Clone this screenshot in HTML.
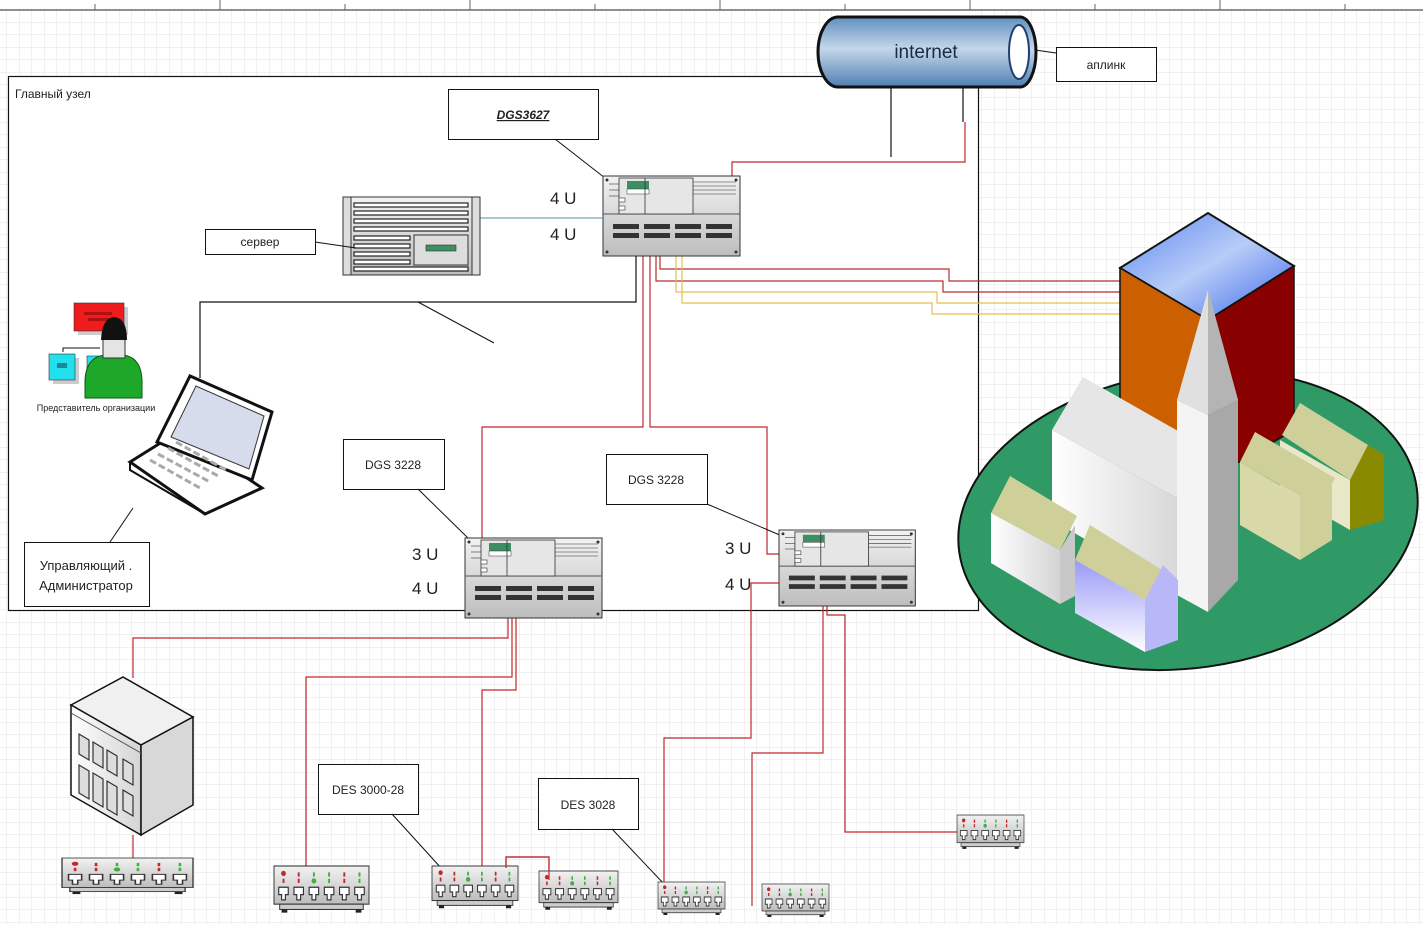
<!DOCTYPE html>
<html><head><meta charset="utf-8"><style>
html,body{margin:0;padding:0;background:#fff}
svg{display:block}
text{font-family:"Liberation Sans","DejaVu Sans",sans-serif}
</style></head><body>
<svg width="1423" height="925" viewBox="0 0 1423 925" xmlns="http://www.w3.org/2000/svg">
<defs>
<pattern id="grid" width="12.5" height="12.5" patternUnits="userSpaceOnUse" x="7" y="10">
<path d="M12.5 0V12.5H0" fill="none" stroke="#e3e3e3" stroke-width="1"/>
</pattern>
<linearGradient id="cyl" x1="0" y1="0" x2="0" y2="1">
<stop offset="0" stop-color="#5f8fbf"/><stop offset="0.45" stop-color="#c5d7ea"/><stop offset="1" stop-color="#4f7fb3"/>
</linearGradient>
<linearGradient id="gray" x1="0" y1="0" x2="0" y2="1">
<stop offset="0" stop-color="#f2f2f2"/><stop offset="1" stop-color="#bdbdbd"/>
</linearGradient>
<linearGradient id="blueTop" x1="0" y1="0" x2="1" y2="1">
<stop offset="0" stop-color="#5a86f0"/><stop offset="0.5" stop-color="#b8ccf8"/><stop offset="1" stop-color="#3a66e8"/>
</linearGradient>
<linearGradient id="wh" x1="0" y1="0" x2="1" y2="0">
<stop offset="0" stop-color="#ffffff"/><stop offset="1" stop-color="#d4d4d4"/>
</linearGradient>
<linearGradient id="lav" x1="0" y1="0" x2="0" y2="1">
<stop offset="0" stop-color="#9a9af8"/><stop offset="1" stop-color="#ffffff"/>
</linearGradient>
<g id="rack">
<rect x="0" y="0" width="137" height="80" fill="url(#gray)" stroke="#333" stroke-width="1"/>
<line x1="0" y1="38" x2="137" y2="38" stroke="#555"/>
<rect x="16" y="2" width="74" height="36" fill="#e6e6e6" stroke="#333" stroke-width="0.8"/>
<rect x="24" y="5" width="22" height="8" fill="#3d8f63"/>
<rect x="24" y="13" width="22" height="5" fill="#fff" stroke="#333" stroke-width="0.5"/>
<line x1="42" y1="2" x2="42" y2="38" stroke="#333" stroke-width="0.8"/>
<line x1="90" y1="6" x2="133" y2="6" stroke="#333" stroke-width="0.6"/>
<line x1="90" y1="10" x2="133" y2="10" stroke="#333" stroke-width="0.6"/>
<line x1="90" y1="14" x2="133" y2="14" stroke="#333" stroke-width="0.6"/>
<line x1="90" y1="18" x2="133" y2="18" stroke="#333" stroke-width="0.6"/>
<line x1="6" y1="8" x2="16" y2="8" stroke="#333" stroke-width="0.6"/>
<line x1="6" y1="14" x2="16" y2="14" stroke="#333" stroke-width="0.6"/>
<line x1="6" y1="20" x2="16" y2="20" stroke="#333" stroke-width="0.6"/>
<rect x="16" y="22" width="6" height="4" fill="#fff" stroke="#333" stroke-width="0.6"/>
<rect x="16" y="30" width="6" height="4" fill="#fff" stroke="#333" stroke-width="0.6"/>
<g fill="#333">
<rect x="10" y="48" width="26" height="5"/><rect x="41" y="48" width="26" height="5"/><rect x="72" y="48" width="26" height="5"/><rect x="103" y="48" width="26" height="5"/>
<rect x="10" y="57" width="26" height="5"/><rect x="41" y="57" width="26" height="5"/><rect x="72" y="57" width="26" height="5"/><rect x="103" y="57" width="26" height="5"/>
</g>
<circle cx="4" cy="4" r="1.5" fill="#333"/><circle cx="133" cy="4" r="1.5" fill="#333"/>
<circle cx="4" cy="76" r="1.5" fill="#333"/><circle cx="133" cy="76" r="1.5" fill="#333"/>
</g>
<g id="sw">
<rect x="0" y="0" width="100" height="36" fill="url(#gray)" stroke="#333"/>
<rect x="6" y="36" width="88" height="5" fill="#ccc" stroke="#333"/>
<rect x="8" y="41" width="6" height="3" fill="#222"/><rect x="86" y="41" width="6" height="3" fill="#222"/>
<g fill="#c0282c"><circle cx="10" cy="7" r="2.5"/><rect x="9" y="12" width="2" height="4"/><rect x="25" y="6" width="2" height="4"/><rect x="25" y="12" width="2" height="4"/><rect x="73" y="6" width="2" height="4"/><rect x="73" y="12" width="2" height="4"/></g>
<g fill="#3cb043"><rect x="41" y="6" width="2" height="4"/><circle cx="42" cy="14" r="2.5"/><rect x="57" y="6" width="2" height="4"/><rect x="57" y="12" width="2" height="4"/><rect x="89" y="6" width="2" height="4"/><rect x="89" y="12" width="2" height="4"/></g>
<g fill="#fff" stroke="#333" stroke-width="1.2">
<path d="M5 20h10v7h-3v5h-4v-5h-3z"/><path d="M21 20h10v7h-3v5h-4v-5h-3z"/><path d="M37 20h10v7h-3v5h-4v-5h-3z"/><path d="M53 20h10v7h-3v5h-4v-5h-3z"/><path d="M69 20h10v7h-3v5h-4v-5h-3z"/><path d="M85 20h10v7h-3v5h-4v-5h-3z"/>
</g>
</g>
</defs>

<rect width="1423" height="925" fill="#fff"/>
<rect x="0" y="10" width="1423" height="915" fill="url(#grid)"/>
<!-- ruler -->
<rect x="0" y="0" width="1423" height="10" fill="#fff"/>
<line x1="0" y1="10" x2="1423" y2="10" stroke="#222"/>
<g stroke="#666" stroke-width="1">
<line x1="220" y1="0" x2="220" y2="10"/><line x1="470" y1="0" x2="470" y2="10"/><line x1="720" y1="0" x2="720" y2="10"/><line x1="970" y1="0" x2="970" y2="10"/><line x1="1220" y1="0" x2="1220" y2="10"/>
<line x1="95" y1="4" x2="95" y2="10"/><line x1="345" y1="4" x2="345" y2="10"/><line x1="595" y1="4" x2="595" y2="10"/><line x1="845" y1="4" x2="845" y2="10"/><line x1="1095" y1="4" x2="1095" y2="10"/><line x1="1345" y1="4" x2="1345" y2="10"/>
</g>

<!-- main frame -->
<rect x="8.5" y="76.5" width="970" height="534" fill="#fff" stroke="#111" stroke-width="1.2"/>
<rect x="840" y="11" width="138" height="65" fill="#fff"/>
<text x="15" y="98" font-size="12" fill="#222">Главный узел</text>

<!-- internet -->
<line x1="891" y1="86" x2="891" y2="157" stroke="#111" stroke-width="1.2"/>
<line x1="963" y1="86" x2="963" y2="122" stroke="#111" stroke-width="1.2"/>
<path d="M732 176V162H965V122" fill="none" stroke="#c0282c" stroke-width="1.2"/>
<path d="M838 17H1020A16 35 0 0 1 1020 87H838A20 35 0 0 1 838 17Z" fill="url(#cyl)" stroke="#111" stroke-width="3"/>
<ellipse cx="1019" cy="52" rx="10" ry="27" fill="#fff" stroke="#1f3f6f" stroke-width="2"/>
<text x="926" y="58" font-size="19" fill="#1a2a40" text-anchor="middle">internet</text>
<line x1="1035" y1="50" x2="1056" y2="53" stroke="#111"/>
<rect x="1056.5" y="47.5" width="100" height="34" fill="#fff" stroke="#111"/>
<text x="1106" y="69" font-size="12" text-anchor="middle" fill="#222">аплинк</text>

<!-- DGS3627 label -->
<rect x="448.5" y="89.5" width="150" height="50" fill="#fff" stroke="#111"/>
<text x="523" y="119" font-size="12" font-weight="bold" font-style="italic" text-decoration="underline" text-anchor="middle" fill="#222">DGS3627</text>
<line x1="555" y1="139" x2="605" y2="178" stroke="#111"/>

<!-- cables to building -->
<g fill="none" stroke-width="1.2">
<path d="M660 256V269H949V281H1120" stroke="#b03030"/>
<path d="M656 256V281H943V292H1120" stroke="#b03030"/>
<path d="M676 256V292H937V303H1120" stroke="#e0c050"/>
<path d="M682 256V303H932V314H1120" stroke="#e0c050"/>
<path d="M643 256V427H482V540" stroke="#c0282c"/>
<path d="M650 256V427H767V554H779" stroke="#c0282c"/>
</g>

<!-- main switch -->
<use href="#rack" x="603" y="176"/>
<text x="550" y="204" font-size="17" fill="#222">4 U</text>
<text x="550" y="240" font-size="17" fill="#222">4 U</text>

<!-- server -->
<line x1="474" y1="218" x2="603" y2="218" stroke="#5a8fa8"/>
<rect x="343" y="197" width="137" height="78" fill="url(#gray)" stroke="#333"/>
<rect x="343" y="197" width="8" height="78" fill="#ddd" stroke="#333"/>
<rect x="472" y="197" width="8" height="78" fill="#ddd" stroke="#333"/>
<g fill="#fff" stroke="#222" stroke-width="1.2">
<rect x="354" y="203" width="114" height="4"/><rect x="354" y="211" width="114" height="4"/><rect x="354" y="219" width="114" height="4"/><rect x="354" y="227" width="114" height="4"/>
<rect x="354" y="236" width="56" height="4"/><rect x="354" y="244" width="56" height="4"/><rect x="354" y="252" width="56" height="4"/><rect x="354" y="260" width="56" height="4"/>
<rect x="354" y="267" width="114" height="4"/>
</g>
<rect x="414" y="235" width="54" height="30" fill="#ddd" stroke="#333"/>
<rect x="426" y="245" width="30" height="6" fill="#3d8f63" stroke="#333" stroke-width="0.6"/>
<rect x="205.5" y="229.5" width="110" height="25" fill="#fff" stroke="#111"/>
<text x="260" y="246" font-size="12" text-anchor="middle" fill="#222">сервер</text>
<line x1="315" y1="242" x2="356" y2="248" stroke="#111"/>

<!-- laptop link -->
<path d="M636 256V302H200V378" fill="none" stroke="#111" stroke-width="1.2"/>
<line x1="418" y1="302" x2="494" y2="343" stroke="#111"/>

<!-- person -->
<rect x="78" y="307" width="50" height="28" fill="#ccc"/>
<rect x="74" y="303" width="50" height="28" fill="#ee1c1c" stroke="#333" stroke-width="0.6"/>
<rect x="84" y="312" width="28" height="3" fill="#b01010"/><rect x="88" y="318" width="24" height="3" fill="#b01010"/>
<path d="M63 352V348H100" fill="none" stroke="#111"/>
<rect x="53" y="358" width="26" height="26" fill="#ccc"/>
<rect x="49" y="354" width="26" height="26" fill="#22e0ec" stroke="#333" stroke-width="0.6"/>
<rect x="57" y="363" width="10" height="5" fill="#1a8a9a"/>
<rect x="87" y="356" width="14" height="22" fill="#22e0ec" stroke="#333" stroke-width="0.6"/>
<path d="M85 398V380Q86 357 105 355H123Q141 357 142 380V398Z" fill="#1ea82a" stroke="#0a5a10"/>
<rect x="103" y="334" width="22" height="24" fill="#e4e4e4" stroke="#333"/>
<path d="M101 340Q102 318 114 317Q127 318 127 340Z" fill="#111"/>
<text x="96" y="411" font-size="9" text-anchor="middle" fill="#222">Представитель организации</text>

<!-- laptop -->
<path d="M130 462L178 432L262 488L205 514Z" fill="#fff" stroke="#111" stroke-width="3"/>
<path d="M130 462L130 470L205 514" fill="none" stroke="#111" stroke-width="2"/>
<path d="M157 442L190 376L272 412L252 480Z" fill="#fff" stroke="#111" stroke-width="3"/>
<path d="M171 437L196 386L264 416L249 469Z" fill="#d6dcec" stroke="#333"/>
<g stroke="#aaa" stroke-width="3" stroke-dasharray="7 3">
<line x1="150" y1="460" x2="200" y2="488"/><line x1="158" y1="454" x2="210" y2="482"/><line x1="168" y1="448" x2="218" y2="476"/><line x1="176" y1="442" x2="226" y2="470"/>
</g>
<line x1="133" y1="508" x2="110" y2="542" stroke="#111"/>
<rect x="24.5" y="542.5" width="125" height="64" fill="#fff" stroke="#111"/>
<text x="86" y="570" font-size="13" text-anchor="middle" fill="#222">Управляющий .</text>
<text x="86" y="590" font-size="13" text-anchor="middle" fill="#222">Администратор</text>

<!-- DGS3228 labels -->
<rect x="343.5" y="439.5" width="101" height="50" fill="#fff" stroke="#111"/>
<text x="393" y="469" font-size="12" text-anchor="middle" fill="#222">DGS 3228</text>
<line x1="418" y1="489" x2="470" y2="540" stroke="#111"/>
<rect x="606.5" y="454.5" width="101" height="50" fill="#fff" stroke="#111"/>
<text x="656" y="484" font-size="12" text-anchor="middle" fill="#222">DGS 3228</text>
<line x1="707" y1="504" x2="782" y2="536" stroke="#111"/>

<!-- lower cables -->
<g fill="none" stroke="#c0282c" stroke-width="1.2">
<path d="M508 600V638H133V678"/>
<path d="M133 835V858"/>
<path d="M512 600V677H306V866"/>
<path d="M516 600V690H482V868"/>
<path d="M506 868V857H549V880"/>
<path d="M823 583H751V738H664V886"/>
<path d="M823 590V753H752V906"/>
<path d="M827 590V615H845V832H957"/>
</g>

<use href="#rack" x="465" y="538"/>
<use href="#rack" x="779" y="530" transform="translate(779 530) scale(0.995 0.95) translate(-779 -530)"/>
<text x="412" y="560" font-size="17" fill="#222">3 U</text>
<text x="412" y="594" font-size="17" fill="#222">4 U</text>
<text x="725" y="554" font-size="17" fill="#222">3 U</text>
<text x="725" y="590" font-size="17" fill="#222">4 U</text>

<!-- office building -->
<path d="M71 705L123 677L193 717L141 745Z" fill="#f0f0f0" stroke="#111" stroke-width="1.5"/>
<path d="M71 705L141 745V835L71 795Z" fill="url(#wh)" stroke="#111" stroke-width="1.5"/>
<path d="M141 745L193 717V805L141 835Z" fill="#d8d8d8" stroke="#111" stroke-width="1.5"/>
<path d="M71 713L141 753" stroke="#555"/>
<g fill="#ddd" stroke="#333" stroke-width="1.2">
<path d="M79 734l10 6v20l-10-6z"/><path d="M93 742l10 6v20l-10-6z"/><path d="M107 750l10 6v20l-10-6z"/><path d="M123 759l10 6v20l-10-6z"/>
<path d="M79 765l10 6v28l-10-6z"/><path d="M93 773l10 6v28l-10-6z"/><path d="M107 781l10 6v28l-10-6z"/><path d="M123 790l10 6v20l-10-6z"/>
</g>

<!-- DES labels -->
<rect x="318.5" y="764.5" width="100" height="50" fill="#fff" stroke="#111"/>
<text x="368" y="794" font-size="12" text-anchor="middle" fill="#222">DES 3000-28</text>
<line x1="392" y1="814" x2="442" y2="869" stroke="#111"/>
<rect x="538.5" y="778.5" width="100" height="51" fill="#fff" stroke="#111"/>
<text x="588" y="809" font-size="12" text-anchor="middle" fill="#222">DES 3028</text>
<line x1="612" y1="829" x2="664" y2="884" stroke="#111"/>

<!-- small switches -->
<use href="#sw" transform="translate(62 858) scale(1.31 0.82)"/>
<use href="#sw" transform="translate(274 866) scale(0.95 1.06)"/>
<use href="#sw" transform="translate(432 866) scale(0.86 0.96)"/>
<use href="#sw" transform="translate(539 871) scale(0.79 0.88)"/>
<use href="#sw" transform="translate(658 882) scale(0.67 0.75)"/>
<use href="#sw" transform="translate(762 884) scale(0.67 0.75)"/>
<use href="#sw" transform="translate(957 815) scale(0.67 0.77)"/>
<path d="M506 868V857H549V880" fill="none" stroke="#c0282c" stroke-width="1.2"/>

<!-- church / campus -->
<ellipse cx="1188" cy="520" rx="231" ry="148" transform="rotate(-8 1188 520)" fill="#2f9a66" stroke="#111" stroke-width="2"/>
<path d="M1120 268L1208 213L1294 266L1208 320Z" fill="url(#blueTop)" stroke="#111" stroke-width="2"/>
<path d="M1120 268L1208 320V470L1120 420Z" fill="#cc6000" stroke="#111" stroke-width="1.5"/>
<path d="M1208 320L1294 266V430L1208 480Z" fill="#880000" stroke="#111" stroke-width="1.5"/>
<!-- nave -->
<path d="M1052 430L1083 377L1215 452L1190 505Z" fill="#e6e6e6"/>
<path d="M1052 430L1190 505V600L1052 520Z" fill="url(#wh)"/>
<!-- spire -->
<path d="M1177 400L1208 290L1238 400L1208 415Z" fill="#e0e0e0"/>
<path d="M1208 290L1238 400L1208 415Z" fill="#b4b4b4"/>
<path d="M1177 400L1208 415V612L1177 595Z" fill="#f4f4f4"/>
<path d="M1208 415L1238 400V580L1208 612Z" fill="#a8a8a8"/>
<!-- right houses -->
<path d="M1282 435L1300 403L1368 445L1350 480Z" fill="#cfcf9a"/>
<path d="M1350 480L1368 445L1384 455V520L1350 530Z" fill="#8a8a00"/>
<path d="M1280 440L1350 480V530L1280 490Z" fill="#e8e8c8"/>
<path d="M1240 462L1255 432L1335 478L1320 508Z" fill="#cfcf9a"/>
<path d="M1240 462L1300 497V560L1240 525Z" fill="#d8d8a8"/>
<path d="M1300 497L1332 478V540L1300 560Z" fill="#cfcf9a"/>
<!-- left houses -->
<path d="M991 513L1010 476L1077 516L1060 550Z" fill="#cfcf9a"/>
<path d="M991 513L1060 550V604L991 563Z" fill="url(#wh)"/>
<path d="M1060 550L1075 525V596L1060 604Z" fill="#c8c8c8"/>
<path d="M1075 560L1090 525L1170 575L1155 610Z" fill="#cfcf9a"/>
<path d="M1075 560L1145 600V652L1075 613Z" fill="url(#lav)"/>
<path d="M1145 600L1163 565L1178 580V640L1145 652Z" fill="#b8b8f8"/>
</svg>
</body></html>
